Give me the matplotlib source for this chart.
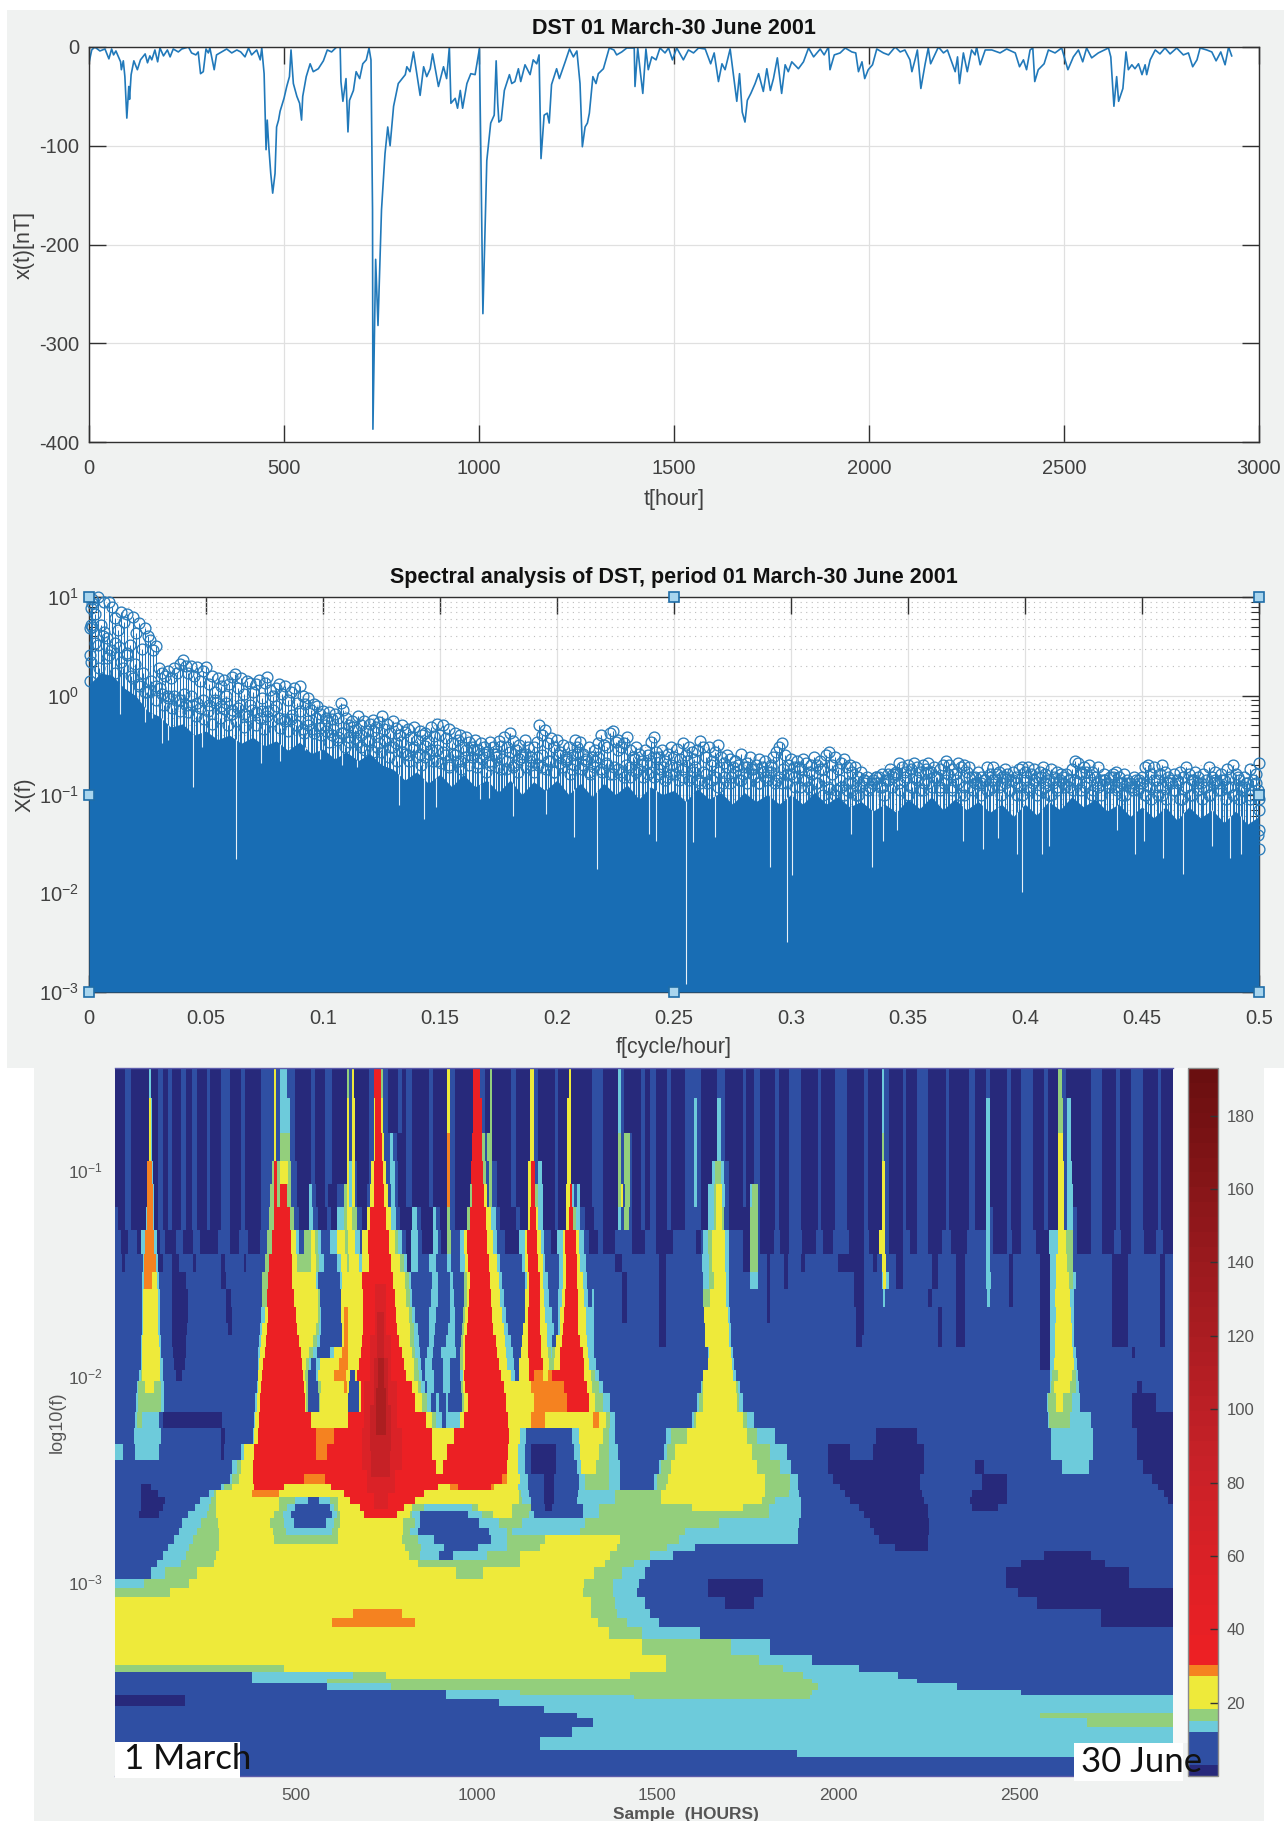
import matplotlib
matplotlib.use("Agg")
import matplotlib.pyplot as plt
import numpy as np
from matplotlib.colors import BoundaryNorm, LinearSegmentedColormap, ListedColormap
from matplotlib.cm import ScalarMappable
from matplotlib.patches import Rectangle
from matplotlib.ticker import NullFormatter, LogLocator

plt.rcParams["font.family"] = ["Liberation Sans", "DejaVu Sans"]
plt.rcParams["mathtext.default"] = "regular"
plt.rcParams["axes.unicode_minus"] = False

W, H = 1284, 1821

# DST index, hours and nT
dst_t = [0, 7, 15, 28, 41, 51, 58, 63, 69, 81, 83, 88, 92, 97, 102, 104, 108, 115, 124, 132, 144, 150, 156, 161, 169,
         176, 182, 191, 201, 208, 216, 229, 238, 255, 263, 274, 280, 286, 293, 300, 306, 310, 321, 327, 340, 353, 366,
         379, 389, 400, 409, 417, 430, 439, 443, 449, 454, 457, 461, 466, 471, 477, 481, 486, 490, 500, 507, 514, 518,
         524, 533, 540, 545, 548, 557, 567, 575, 588, 601, 611, 622, 635, 644, 646, 651, 659, 664, 668, 678, 685, 694,
         702, 711, 718, 723, 727, 728, 735, 741, 750, 759, 766, 772, 781, 793, 811, 815, 823, 832, 839, 849, 858, 866,
         875, 881, 896, 909, 917, 924, 928, 939, 945, 952, 958, 969, 979, 990, 1001, 1005, 1010, 1020, 1030, 1039, 1044,
         1048, 1051, 1057, 1065, 1078, 1084, 1092, 1101, 1107, 1118, 1131, 1139, 1148, 1154, 1159, 1167, 1175, 1180,
         1186, 1199, 1206, 1221, 1232, 1242, 1251, 1259, 1265, 1272, 1278, 1283, 1292, 1300, 1306, 1319, 1334, 1346,
         1353, 1366, 1379, 1398, 1400, 1407, 1413, 1420, 1428, 1434, 1443, 1454, 1464, 1477, 1486, 1496, 1507, 1524,
         1537, 1550, 1563, 1580, 1594, 1603, 1614, 1623, 1631, 1644, 1652, 1661, 1668, 1675, 1682, 1688, 1697, 1708,
         1717, 1729, 1738, 1747, 1755, 1765, 1776, 1785, 1793, 1802, 1819, 1832, 1845, 1858, 1875, 1885, 1896, 1900,
         1911, 1926, 1939, 1956, 1966, 1973, 1982, 1989, 1998, 2009, 2020, 2037, 2050, 2067, 2080, 2092, 2105, 2110,
         2118, 2124, 2133, 2144, 2152, 2158, 2178, 2191, 2201, 2210, 2221, 2227, 2232, 2242, 2252, 2263, 2272, 2276,
         2285, 2298, 2315, 2336, 2353, 2375, 2386, 2396, 2404, 2413, 2420, 2425, 2434, 2449, 2460, 2477, 2494, 2510,
         2524, 2537, 2548, 2558, 2571, 2588, 2614, 2620, 2628, 2635, 2640, 2651, 2659, 2665, 2674, 2682, 2691, 2700,
         2708, 2712, 2721, 2734, 2746, 2759, 2772, 2789, 2806, 2819, 2830, 2841, 2849, 2866, 2879, 2890, 2902, 2913,
         2922, 2930]
dst_x = [-16, -3, 0, -4, -2, -12, -2, -8, -4, -15, -23, -14, -30, -72, -40, -53, -28, -14, -23, -13, -7, -16, -9, -13, -3,
         -15, -1, -9, -3, -10, -2, -5, -2, 0, -6, -8, -5, -27, -25, -2, -6, -1, -23, -8, -5, -2, -6,
         -3, -5, -10, -1, -8, -3, -13, -1, -27, -104, -74, -101, -128, -148, -128, -81, -74, -65, -52, -40, -30, -3,
         -37, -50, -57, -74, -50, -30, -17, -25, -22, -14, -3, -5, 0, 0, -35, -55, -32, -86, -54, -44, -25, -32,
         -17, -13, -1, -13, -165, -387, -215, -282, -165, -108, -81, -100, -60, -37, -28, -20, -25, -5, -23, -49, -20, -30,
         -22, -7, -40, -20, -32, 0, -57, -52, -62, -44, -62, -37, -27, -28, -2, -115, -270, -115, -77, -69, -14,
         -57, -76, -74, -44, -28, -37, -35, -22, -35, -18, -28, -13, -17, -8, -113, -69, -67, -77,
         -38, -22, -32, -15, -2, -10, -4, -37, -101, -81, -77, -67, -30, -37, -27, -22, -1, -3,
         -8, -5, -1, -1, -40, -1, -23, -47, -2, -23, -10, -13, -1, -6, -1, -13, -1, -13,
         -3, -6, -1, -2, -17, -6, -35, -17, -23, -2, -27, -55, -27, -66, -76, -54, -47, -37,
         -27, -45, -22, -44, -32, -11, -47, -18, -25, -15, -22, -15, -1, -10, -2, -8, 0, -23,
         -8, -6, -1, -5, -6, -25, -15, -32, -23, -18, -2, -6, -8, 0, -5, -3, -13, -25,
         -13, -3, -42, -17, -1, -17, 0, -6, -3, -13, -25, -10, -37, -6, -25, -3, -8, 0,
         -18, -3, -3, -6, -2, -6, -20, -13, -23, -3, -1, -35, -23, -17, -3, -6, -1, -23,
         -10, -3, -15, -1, -11, -6, -1, -10, -60, -30, -55, -42, -5, -23, -18, -22, -17, -28,
         -18, -28, -13, -3, -7, -1, -7, -1, -8, -6, -20, -13, -1, -3, -5, -14, -5, -18,
         0, -9]
dst_ticks_x = [0, 500, 1000, 1500, 2000, 2500, 3000]
dst_ticks_y = [-400, -300, -200, -100, 0]

# spectrum, main peaks every 0.00125 cycle/hour
x_peak = [9.5, 6.8, 9.9, 5.2, 8.9, 3.8, 9.0, 7.9, 6.2, 4.6, 7.0, 5.6, 6.7, 3.3, 6.3, 4.3, 5.5, 3.0, 4.8, 4.0,
          3.7, 2.9, 3.2, 1.9, 1.7, 1.6, 1.8, 1.5, 1.9, 1.7, 2.1, 2.3, 2.0, 1.7, 2.0, 1.6, 1.95, 1.4, 1.8, 1.95,
          1.3, 1.6, 1.1, 1.5, 1.25, 1.45, 1.0, 1.3, 1.55, 1.67, 1.2, 1.5, 1.05, 1.4, 1.35, 1.1, 1.3, 1.45, 0.95, 1.35,
          1.55, 1.15, 1.0, 1.2, 1.3, 1.05, 1.25, 0.9, 1.1, 1.2, 0.85, 1.25, 1.0, 0.82, 0.95, 0.72, 0.83, 0.78, 0.65, 0.7,
          0.6, 0.69, 0.58, 0.66, 0.6, 0.84, 0.72, 0.6, 0.5, 0.55, 0.45, 0.63, 0.5, 0.56, 0.44, 0.52, 0.57, 0.48, 0.54, 0.62,
          0.46, 0.52, 0.42, 0.55, 0.47, 0.4, 0.5, 0.43, 0.46, 0.38, 0.48, 0.36, 0.44, 0.4, 0.42, 0.35, 0.48, 0.39, 0.52, 0.4,
          0.5, 0.37, 0.46, 0.33, 0.42, 0.36, 0.4, 0.3, 0.38, 0.34, 0.3, 0.36, 0.28, 0.33, 0.3, 0.27, 0.34, 0.3, 0.26, 0.35,
          0.31, 0.38, 0.3, 0.42, 0.35, 0.28, 0.32, 0.26, 0.36, 0.3, 0.24, 0.3, 0.34, 0.5, 0.4, 0.45, 0.33, 0.37, 0.3, 0.36,
          0.27, 0.32, 0.24, 0.3, 0.25, 0.36, 0.3, 0.34, 0.26, 0.22, 0.3, 0.24, 0.28, 0.33, 0.4, 0.32, 0.3, 0.42, 0.44, 0.34,
          0.36, 0.3, 0.33, 0.38, 0.28, 0.24, 0.3, 0.26, 0.22, 0.28, 0.25, 0.34, 0.38, 0.27, 0.24, 0.28, 0.22, 0.26, 0.3, 0.24,
          0.29, 0.23, 0.33, 0.25, 0.3, 0.27, 0.23, 0.28, 0.35, 0.3, 0.24, 0.3, 0.22, 0.27, 0.32, 0.24, 0.21, 0.25, 0.23, 0.19,
          0.22, 0.2, 0.26, 0.19, 0.21, 0.24, 0.18, 0.2, 0.23, 0.19, 0.22, 0.17, 0.2, 0.24, 0.27, 0.3, 0.33, 0.25, 0.2, 0.23,
          0.19, 0.22, 0.18, 0.23, 0.21, 0.17, 0.2, 0.24, 0.2, 0.22, 0.18, 0.25, 0.27, 0.2, 0.24, 0.18, 0.21, 0.23, 0.19, 0.2,
          0.17, 0.19, 0.15, 0.17, 0.13, 0.15, 0.12, 0.14, 0.13, 0.15, 0.16, 0.14, 0.16, 0.18, 0.15, 0.17, 0.21, 0.19, 0.17, 0.2,
          0.18, 0.21, 0.19, 0.17, 0.2, 0.18, 0.21, 0.17, 0.19, 0.15, 0.18, 0.2, 0.22, 0.2, 0.18, 0.16, 0.21, 0.19, 0.2, 0.17,
          0.19, 0.15, 0.13, 0.17, 0.15, 0.14, 0.19, 0.16, 0.19, 0.14, 0.17, 0.15, 0.18, 0.16, 0.14, 0.17, 0.15, 0.18, 0.19, 0.17,
          0.19, 0.16, 0.18, 0.15, 0.17, 0.19, 0.16, 0.14, 0.18, 0.15, 0.17, 0.14, 0.13, 0.16, 0.14, 0.18, 0.22, 0.21, 0.16, 0.19,
          0.17, 0.2, 0.17, 0.15, 0.19, 0.14, 0.16, 0.13, 0.12, 0.15, 0.17, 0.15, 0.13, 0.16, 0.14, 0.13, 0.12, 0.14, 0.13, 0.15,
          0.19, 0.2, 0.16, 0.19, 0.14, 0.16, 0.2, 0.17, 0.15, 0.13, 0.16, 0.14, 0.17, 0.15, 0.19, 0.16, 0.14, 0.17, 0.15, 0.13,
          0.16, 0.14, 0.19, 0.15, 0.17, 0.13, 0.16, 0.14, 0.18, 0.15, 0.2, 0.16, 0.14, 0.12, 0.15, 0.13, 0.18, 0.14, 0.16, 0.21]
# spectrum, lower peaks every 0.0025 cycle/hour, half a step off
x_low = [5.0, 3.3, 4.4, 2.6, 3.4, 2.2, 2.7, 1.5, 1.25, 1.1, 1.15, 1.25, 1.05, 0.95, 1.0, 0.9, 0.8, 1.0, 0.85, 0.9,
         0.8, 0.9, 0.78, 0.85, 0.72, 0.75, 0.66, 0.8, 0.68, 0.7, 0.62, 0.72, 0.6, 0.55, 0.58, 0.5, 0.46, 0.5, 0.42, 0.47,
         0.44, 0.4, 0.38, 0.42, 0.34, 0.37, 0.3, 0.35, 0.27, 0.33, 0.36, 0.3, 0.33, 0.27, 0.25, 0.3, 0.26, 0.24, 0.28, 0.22,
         0.27, 0.2, 0.25, 0.22, 0.28, 0.24, 0.21, 0.26, 0.2, 0.24, 0.18, 0.22, 0.19, 0.23, 0.26, 0.2, 0.24, 0.19, 0.22, 0.17,
         0.21, 0.23, 0.18, 0.26, 0.2, 0.17, 0.22, 0.18, 0.2, 0.16, 0.18, 0.15, 0.19, 0.17, 0.2, 0.16, 0.15, 0.18, 0.14, 0.16,
         0.19, 0.15, 0.14, 0.17, 0.13, 0.16, 0.14, 0.12, 0.15, 0.13, 0.17, 0.14, 0.19, 0.16, 0.13, 0.15, 0.17, 0.14, 0.13, 0.16,
         0.15, 0.12, 0.14, 0.11, 0.13, 0.1, 0.115, 0.1, 0.12, 0.11, 0.13, 0.1, 0.14, 0.12, 0.15, 0.12, 0.14, 0.16, 0.13, 0.15,
         0.12, 0.14, 0.11, 0.13, 0.15, 0.12, 0.14, 0.11, 0.13, 0.1, 0.12, 0.15, 0.13, 0.11, 0.14, 0.12, 0.15, 0.11, 0.13, 0.1,
         0.12, 0.14, 0.11, 0.13, 0.1, 0.12, 0.15, 0.12, 0.14, 0.11, 0.13, 0.1, 0.12, 0.14, 0.15, 0.12, 0.1, 0.13, 0.11, 0.14,
         0.1, 0.09, 0.12, 0.1, 0.13, 0.11, 0.09, 0.12, 0.1, 0.13, 0.12, 0.1, 0.14, 0.11, 0.12, 0.1, 0.09, 0.12, 0.1, 0.13]
# spectrum, peaks just above the solid part, every 0.00172 cycle/hour
x_mid = [2.2, 3.4, 1.9, 4.0, 2.4, 2.9, 1.7, 3.1, 1.9, 2.6, 1.6, 2.1, 1.3, 1.7, 1.1, 1.4, 0.9, 1.2, 0.8, 1.0, 0.75, 0.9, 0.7, 1.05, 0.68, 0.8, 0.62, 0.75,
         0.58, 0.7, 0.52, 0.85, 0.6, 0.74, 0.5, 0.66, 0.56, 0.8, 0.48, 0.62, 0.72, 0.5, 0.6, 0.46, 0.7, 0.55, 0.78, 0.47, 0.58, 0.44, 0.64, 0.5, 0.7, 0.42, 0.56, 0.46, 0.6,
         0.4, 0.5, 0.34, 0.46, 0.36, 0.42, 0.3, 0.38, 0.48, 0.34, 0.4, 0.28, 0.36, 0.44, 0.3, 0.27, 0.35, 0.24, 0.3, 0.22, 0.34, 0.26, 0.22, 0.29, 0.24, 0.2, 0.31, 0.26, 0.22,
         0.28, 0.21, 0.25, 0.19, 0.26, 0.22, 0.18, 0.24, 0.2, 0.28, 0.19, 0.23, 0.17, 0.22, 0.26, 0.19, 0.23, 0.18, 0.27, 0.2, 0.17, 0.24, 0.19, 0.22, 0.17, 0.2, 0.25, 0.18, 0.22,
         0.17, 0.25, 0.19, 0.22, 0.16, 0.2, 0.27, 0.18, 0.23, 0.16, 0.19, 0.24, 0.17, 0.21, 0.16, 0.19, 0.28, 0.17, 0.2, 0.15, 0.23, 0.18, 0.15, 0.21, 0.17, 0.24, 0.16, 0.19, 0.15,
         0.2, 0.16, 0.14, 0.18, 0.22, 0.15, 0.19, 0.14, 0.17, 0.13, 0.2, 0.15, 0.17, 0.13, 0.19, 0.15, 0.22, 0.14, 0.16, 0.13, 0.18, 0.15, 0.13, 0.17, 0.14, 0.19, 0.13, 0.15, 0.18,
         0.13, 0.16, 0.12, 0.19, 0.14, 0.12, 0.16, 0.13, 0.18, 0.14, 0.12, 0.16, 0.11, 0.14, 0.1, 0.13, 0.11, 0.1, 0.12, 0.14, 0.11, 0.13, 0.15, 0.12, 0.1, 0.14, 0.12, 0.16, 0.11,
         0.14, 0.1, 0.12, 0.15, 0.11, 0.13, 0.17, 0.12, 0.15, 0.11, 0.13, 0.16, 0.12, 0.14, 0.1, 0.12, 0.15, 0.11, 0.13, 0.1, 0.14, 0.11, 0.12, 0.16, 0.1, 0.13, 0.11, 0.14, 0.1,
         0.12, 0.14, 0.11, 0.13, 0.1, 0.15, 0.12, 0.1, 0.13, 0.11, 0.16, 0.12, 0.14, 0.11, 0.13, 0.17, 0.12, 0.15, 0.11, 0.13, 0.1, 0.14, 0.12, 0.16, 0.11, 0.13, 0.1, 0.12, 0.15,
         0.11, 0.13, 0.1, 0.12, 0.14, 0.1, 0.12, 0.09, 0.14, 0.11, 0.13, 0.09, 0.12, 0.1, 0.14, 0.11, 0.09, 0.12, 0.1, 0.13, 0.11, 0.14, 0.09, 0.12, 0.1, 0.15, 0.11, 0.13, 0.09]
# circles hugging the two edges of the frequency axis
f_edge = [0.0003, 0.0005, 0.0006, 0.0008, 0.001, 0.0012, 0.4995, 0.4998, 0.5, 0.5, 0.4997, 0.5]
x_edge = [1.4, 2.6, 4.8, 5.2, 7.8, 8.6, 0.11, 0.09, 0.069, 0.044, 0.039, 0.028]
# top of the solid part of the comb, uneven like the reference
f_floor = [0, 0.005, 0.01, 0.015, 0.02, 0.025, 0.03, 0.035, 0.04, 0.045, 0.05, 0.055, 0.06, 0.065, 0.07, 0.075, 0.08, 0.085, 0.09, 0.095,
           0.1, 0.105, 0.11, 0.115, 0.12, 0.125, 0.13, 0.135, 0.14, 0.145, 0.15, 0.155, 0.16, 0.165, 0.17, 0.175, 0.18, 0.185, 0.19, 0.195,
           0.2, 0.205, 0.21, 0.215, 0.22, 0.225, 0.23, 0.235, 0.24, 0.245, 0.25, 0.255, 0.26, 0.265, 0.27, 0.275, 0.28, 0.285, 0.29, 0.295,
           0.3, 0.305, 0.31, 0.315, 0.32, 0.325, 0.33, 0.335, 0.34, 0.345, 0.35, 0.355, 0.36, 0.365, 0.37, 0.375, 0.38, 0.385, 0.39, 0.395,
           0.4, 0.405, 0.41, 0.415, 0.42, 0.425, 0.43, 0.435, 0.44, 0.445, 0.45, 0.455, 0.46, 0.465, 0.47, 0.475, 0.48, 0.485, 0.49, 0.495, 0.5]
x_floor = [1.3, 1.7, 1.6, 1.2, 1.0, 0.7, 0.62, 0.48, 0.52, 0.4, 0.44, 0.36, 0.4, 0.33, 0.38, 0.31, 0.35, 0.28, 0.34, 0.26,
           0.29, 0.23, 0.27, 0.22, 0.26, 0.2, 0.18, 0.14, 0.17, 0.13, 0.16, 0.12, 0.16, 0.12, 0.14, 0.105, 0.14, 0.1, 0.135, 0.11,
           0.14, 0.1, 0.13, 0.095, 0.13, 0.1, 0.125, 0.09, 0.12, 0.1, 0.11, 0.085, 0.115, 0.09, 0.105, 0.08, 0.105, 0.085, 0.1, 0.08,
           0.1, 0.08, 0.105, 0.08, 0.095, 0.075, 0.085, 0.068, 0.08, 0.066, 0.09, 0.072, 0.095, 0.07, 0.09, 0.07, 0.085, 0.066, 0.08, 0.06,
           0.08, 0.062, 0.085, 0.07, 0.095, 0.075, 0.09, 0.068, 0.08, 0.06, 0.075, 0.058, 0.075, 0.055, 0.075, 0.058, 0.07, 0.052, 0.068, 0.05, 0.06]
# deep dips of the comb, shown as white hairlines
f_dip = [0.0132, 0.0238, 0.0268, 0.031, 0.0339, 0.041, 0.0446, 0.0482, 0.0628, 0.0735, 0.0816, 0.0923, 0.0987, 0.1082, 0.1144,
         0.1325, 0.1432, 0.1481, 0.1671, 0.171, 0.1811, 0.1953, 0.2074, 0.2171, 0.2394, 0.2424, 0.2552, 0.2581, 0.2675, 0.291,
         0.2984, 0.3004, 0.3256, 0.3345, 0.3395, 0.3455, 0.3734, 0.3819, 0.3884, 0.3965, 0.3987, 0.4072, 0.4103, 0.4393,
         0.4471, 0.4509, 0.4589, 0.4675, 0.4799, 0.4876, 0.4922]
x_dip = [0.66, 0.54, 0.6, 0.33, 0.36, 0.5, 0.119, 0.3, 0.0224, 0.21, 0.22, 0.28, 0.23, 0.2, 0.19,
         0.078, 0.057, 0.075, 0.09, 0.092, 0.061, 0.063, 0.037, 0.0178, 0.04, 0.034, 0.0012, 0.033, 0.037, 0.0186,
         0.0032, 0.0152, 0.04, 0.0186, 0.034, 0.044, 0.034, 0.028, 0.036, 0.025, 0.0102, 0.025, 0.03, 0.044,
         0.025, 0.034, 0.0225, 0.0158, 0.03, 0.0225, 0.025]
f_tip = [0, 0.25, 0.5, 0, 0.5, 0, 0.25, 0.5]
x_tip = [10, 10, 10, 0.1, 0.1, 0.001, 0.001, 0.001]
spec_ticks_x = [0, 0.05, 0.1, 0.15, 0.2, 0.25, 0.3, 0.35, 0.4, 0.45, 0.5]
spec_labels_x = ["0", "0.05", "0.1", "0.15", "0.2", "0.25", "0.3", "0.35", "0.4", "0.45", "0.5"]

# scalogram bands, lowest to highest
band_colors = ["#27297b", "#2f4fa3", "#6dcbdb", "#93cf7c", "#eeea3a", "#f58220", "#ec2024", "#da2227", "#c62126", "#ac1e20"]

# scalogram cells: each row is (lower edge of the row, runs "band:last column"), columns 99-1011 span the record
m1 = "0:145 1:148 0:156 1:160 0:165 1:170 0:178 1:181 0:190 1:198 0:208 1:211 0:225"
m2 = "1:148 0:154 1:166 0:169 1:190 0:194 1:210 0:212 1:225"
m3 = "0:152 1:158 0:166 1:172 0:188 1:198 0:206 1:214 0:224"
r_a = "0:552 1:556 0:560 1:565 0:575 1:578 0:590 1:598"
r_c = "1:655 0:668 1:671 0:680 1:690 0:705 1:708 0:720 1:730 0:745 1:748 0:760"
r_c2 = "1:661 0:664 1:676 0:679 1:690 0:694 1:722 0:745 1:752 0:756 1:760"
r_c3 = "1:655 0:667 1:672 0:680 1:691 0:703 1:709 0:718 1:732 0:745 1:749 0:758"
r_d = "0:778 1:781 0:790 1:800 0:815 1:818 0:835 1:840 0:850"
r_e = "0:868 1:871 0:880 1:890 0:900 1:903 0:912"
r_f = "0:940 1:950 0:962 1:965 0:975 1:985 0:998 1:1001 0:1011"
r_h = "1:772 0:778 1:803 0:808 1:824 0:832 1:850"
r_h3 = "0:778 1:784 0:790 1:800 0:812 1:820 0:833 1:850"
r_i = "1:870 0:873 1:896 0:905"
r_i3 = "0:868 1:872 0:880 1:893 0:904"
r_j = "1:958 0:972 1:1000 0:1004 1:1011"
r_j3 = "0:940 1:950 0:960 1:966 0:975 1:986 0:996 1:1002 0:1011"

cwt_rows = [
    (945, "0:108 1:113 0:128 2:130 0:136 1:140 " + m1 + " 1:236 4:238 1:241 2:247 1:254 0:268 1:271 0:280 1:286 0:299 3:301 1:303 4:305 0:318 1:322 6:328 3:330 1:334 0:343 1:346 0:350 1:355 0:370 1:373 0:385 4:388 1:392 0:408 6:414 1:418 0:422 3:424 0:440 1:445 0:457 4:460 1:464 0:478 1:481 0:490 4:492 0:510 1:520 0:533 2:535 1:538 " + r_a + " 1:604 0:618 1:625 0:640 1:643 0:650 " + r_c + " 2:762 1:766 " + r_d + " 1:853 " + r_e + " 3:915 1:919 " + r_f),
    (975, "0:108 1:113 0:128 2:128 4:130 2:131 0:136 1:140 " + m1 + " 1:236 4:238 1:241 2:250 1:254 0:268 1:271 0:280 1:286 0:299 4:301 1:303 4:306 0:318 1:322 4:323 6:328 4:330 1:334 0:343 1:346 0:350 1:355 0:370 1:373 0:385 4:388 1:392 0:408 6:415 1:418 0:422 3:424 0:440 1:445 0:457 4:460 1:464 0:478 1:481 0:489 4:492 0:510 1:520 0:533 2:535 1:538 " + r_a + " 2:601 1:604 0:618 2:621 1:625 0:640 1:643 0:650 " + r_c + " 2:762 1:766 " + r_d + " 2:853 " + r_e + " 3:916 1:920 2:923 " + r_f),
    (1000, "0:108 1:113 0:128 2:128 4:130 2:131 0:136 1:140 " + m1 + " 1:236 4:238 1:241 3:250 1:254 0:268 1:271 0:280 1:286 0:299 4:301 1:303 4:306 0:318 1:322 4:323 6:329 4:331 1:336 2:339 1:342 0:350 1:355 0:370 1:373 0:385 5:388 1:392 0:407 6:415 3:418 1:420 3:424 0:440 1:445 0:457 4:460 1:464 0:478 1:481 0:489 4:492 0:510 1:520 0:533 3:535 1:538 3:543 1:545 " + r_a + " 2:601 1:604 0:618 2:621 1:625 0:640 1:643 0:650 " + r_c + " 3:762 1:766 " + r_d + " 2:853 " + r_e + " 4:916 1:920 2:923 " + r_f),
    (1020, "0:108 1:113 0:127 2:127 5:131 2:132 0:136 1:140 " + m1 + " 1:234 3:236 6:239 3:241 4:248 3:251 1:256 0:268 1:271 0:280 1:286 0:299 4:301 2:303 4:306 1:308 0:318 1:320 4:322 6:330 4:333 1:336 2:340 1:343 0:350 1:355 0:370 1:373 0:385 5:388 1:392 0:406 6:416 3:419 1:421 3:424 1:428 0:440 1:445 0:455 4:458 6:461 1:464 2:467 0:478 1:481 0:489 4:492 0:510 1:520 0:533 3:535 1:538 3:543 1:545 " + r_a + " 2:601 1:604 0:614 2:616 3:621 2:624 1:628 0:640 1:643 0:650 " + r_c + " 4:763 1:766 " + r_d + " 2:853 " + r_e + " 4:917 1:920 2:924 " + r_f),
    (1040, "0:108 1:113 0:127 2:127 5:132 2:133 0:136 1:140 " + m1 + " 1:233 3:236 6:239 3:241 6:247 3:251 1:256 0:266 2:269 1:272 0:280 1:283 0:290 1:296 3:299 4:301 2:303 4:306 1:308 0:316 1:319 4:322 6:331 4:334 1:337 2:340 1:343 0:350 1:355 0:370 1:373 0:385 5:388 1:392 0:405 3:407 6:417 4:420 1:421 3:424 1:428 0:440 1:445 0:455 4:458 6:461 3:464 2:468 0:478 1:481 0:488 4:491 6:493 2:495 1:497 2:500 0:510 1:520 0:533 3:535 4:537 1:539 3:543 1:545 " + r_a + " 2:601 1:604 0:610 2:615 3:617 4:622 2:625 1:628 0:640 1:643 0:646 2:648 3:653 " + r_c + " 4:763 1:766 " + r_d + " 2:853 " + r_e + " 4:917 1:920 2:925 " + r_f),
    (1060, "1:102 0:108 1:113 0:126 2:127 5:132 2:133 0:136 1:140 " + m1 + " 1:232 3:236 6:250 3:253 1:258 0:266 2:270 1:274 0:282 1:285 0:290 2:296 3:299 4:303 3:308 1:312 0:316 4:319 6:333 4:337 2:341 1:345 0:355 2:359 1:363 0:373 2:376 1:379 0:385 3:388 1:392 0:402 3:405 6:419 4:423 2:427 1:431 0:445 1:448 0:455 4:457 6:462 4:464 2:468 0:478 1:481 0:488 4:490 6:494 3:496 2:500 1:504 0:512 1:520 0:533 2:535 1:538 3:542 1:545 " + r_a + " 1:604 0:610 2:615 3:617 4:622 3:624 1:628 0:646 3:653 " + r_c + " 4:763 1:766 " + r_d + " 2:853 1:856 " + r_e + " 4:917 1:920 2:925 1:928 " + r_f),
    (1080, "1:104 0:110 1:118 0:121 2:125 5:133 2:135 0:138 1:142 " + m3 + " 1:230 3:234 6:251 4:255 2:258 1:262 3:268 4:271 3:274 2:277 1:284 2:290 4:297 3:300 4:306 2:310 1:312 4:317 6:335 4:340 3:343 2:346 1:350 0:354 2:360 1:364 0:373 2:377 1:380 0:385 3:389 1:396 2:400 4:402 6:420 4:425 2:428 1:435 0:447 2:452 4:454 6:463 4:466 2:469 1:475 0:480 2:485 4:487 6:496 4:499 2:503 1:508 0:515 1:520 0:530 1:545 0:556 1:565 0:580 1:600 0:604 1:606 2:610 3:614 4:625 2:628 1:640 0:646 3:653 " + r_c3 + " 4:763 1:766 " + r_h3 + " 2:853 1:856 " + r_i3 + " 2:912 4:919 3:925 1:928 " + r_j3),
    (1095, "1:105 0:108 1:123 2:124 5:134 2:136 0:140 " + m2 + " 1:228 3:232 6:252 4:256 3:268 4:272 3:275 2:279 1:290 2:294 4:299 3:301 4:309 2:312 4:318 6:337 4:345 3:348 2:351 0:354 2:360 1:370 2:376 1:385 2:389 1:396 2:401 4:403 6:421 4:428 2:431 1:450 2:452 4:455 6:464 4:468 2:470 1:482 2:485 4:488 6:497 4:500 2:505 1:530 0:536 1:568 0:574 1:605 2:611 3:614 4:625 2:628 1:640 0:646 3:653 " + r_c2 + " 4:764 1:766 " + r_h + " 2:853 1:856 " + r_i + " 2:910 4:920 3:925 1:930 " + r_j),
    (1110, "1:122 2:124 5:131 4:135 2:137 1:148 0:160 1:190 0:195 1:226 3:231 6:252 4:272 2:274 1:293 2:295 4:312 6:339 4:349 3:352 2:354 1:372 2:377 1:388 2:390 1:400 3:402 4:405 6:422 4:430 2:433 1:452 2:454 4:456 6:465 4:468 2:472 1:482 2:485 4:488 6:497 4:502 2:506 1:536 0:540 1:568 0:574 1:606 2:611 3:615 4:626 2:628 1:646 2:653 1:661 0:664 1:676 0:679 1:736 0:745 1:760 2:761 4:764 2:766 " + r_h + " 2:854 1:856 " + r_i + " 2:910 4:921 3:925 2:927 " + r_j),
    (1125, "1:122 2:123 4:136 2:138 1:148 0:162 1:195 0:199 1:226 3:230 6:253 4:274 3:276 1:294 4:313 6:340 4:350 3:353 2:355 1:371 2:377 1:388 2:391 1:400 3:402 4:404 6:423 4:431 2:434 1:452 4:456 6:465 4:469 2:473 1:481 2:484 4:487 6:498 4:503 2:507 1:510 2:512 1:536 0:540 1:568 0:574 1:606 3:612 4:626 2:628 1:661 0:664 1:736 0:745 1:761 2:763 1:800 0:803 1:824 0:832 1:851 2:853 " + r_i + " 2:909 4:922 2:926 " + r_j),
    (1140, "1:122 2:123 4:136 2:138 1:148 0:162 1:195 0:200 1:225 2:228 4:231 6:255 4:274 3:276 2:277 1:294 4:296 5:300 4:313 6:341 4:352 3:355 2:358 1:370 2:376 1:388 2:392 1:399 3:401 4:403 6:424 4:433 2:436 1:452 4:455 6:465 4:470 2:476 1:481 2:483 4:486 6:498 4:505 2:512 1:536 0:540 1:568 0:574 1:607 4:627 2:629 1:661 0:664 1:738 0:745 1:808 0:812 1:824 0:832 1:896 0:905 2:910 4:923 2:926 " + r_j),
    (1150, "1:122 2:123 4:136 2:138 1:148 0:161 1:196 0:200 1:224 2:226 4:230 6:256 4:272 3:275 2:277 1:295 4:296 5:300 4:313 6:342 4:353 3:357 2:360 1:370 2:375 1:386 2:392 1:398 3:400 4:402 6:425 4:434 2:438 1:451 4:455 6:465 4:471 2:477 1:481 2:483 4:485 6:498 4:505 2:512 1:568 0:574 1:608 4:628 2:630 1:738 0:745 1:808 0:812 1:824 0:832 1:896 0:905 2:909 4:924 2:926 " + r_j),
    (1160, "1:121 2:122 4:137 2:139 1:148 0:160 1:223 2:225 4:229 6:258 4:270 3:273 2:276 1:295 4:296 5:300 4:312 6:344 4:353 3:357 2:361 1:370 2:374 1:384 2:392 1:397 3:399 4:401 6:427 4:435 2:440 1:450 4:455 6:466 4:471 2:476 1:479 4:484 6:500 4:506 2:512 1:568 0:574 1:608 4:628 2:630 1:738 0:743 1:808 0:812 1:824 0:832 1:896 0:905 2:909 4:924 2:926 " + r_j),
    (1170, "1:121 2:122 4:138 2:139 1:149 0:160 1:222 2:224 4:228 6:259 4:266 3:270 2:273 1:284 2:288 4:295 5:300 4:311 6:346 4:355 3:358 2:362 1:368 2:373 1:380 2:393 1:396 3:399 4:401 6:428 4:436 2:442 1:449 4:455 6:466 4:472 3:475 2:476 3:478 4:483 6:502 4:507 2:512 1:610 2:611 4:630 2:632 1:896 0:905 2:909 4:925 2:927 1:976 0:978 1:1011"),
    (1180, "1:121 2:122 4:138 2:140 1:150 0:159 1:222 2:223 4:227 6:260 4:264 3:266 2:268 1:272 2:276 4:292 5:300 4:309 6:348 4:357 3:360 2:363 1:366 2:372 1:382 2:388 1:396 3:399 4:401 6:430 4:437 2:443 1:447 4:456 6:468 4:473 3:477 4:483 6:503 4:508 2:514 1:610 2:610 4:631 2:633 1:896 0:905 2:908 4:926 2:928 1:1011"),
    (1190, "1:120 2:121 3:122 4:138 2:140 1:152 0:157 1:222 4:226 6:261 4:263 3:265 1:272 2:274 4:288 5:298 4:302 1:306 4:308 6:350 4:357 3:361 2:364 1:366 2:374 1:382 2:388 1:396 2:399 4:400 6:432 4:440 2:444 1:447 4:456 6:460 5:468 4:472 5:476 6:503 4:509 3:513 2:516 1:606 2:606 4:632 2:634 1:905 2:907 3:912 4:924 3:927 2:929 1:1011"),
    (1200, "1:118 2:119 3:125 4:133 3:139 2:141 1:221 2:222 4:225 6:262 4:264 3:265 1:274 3:277 4:296 5:299 4:301 1:309 4:311 6:355 4:360 3:363 2:366 1:368 2:374 1:382 2:388 1:397 3:399 4:401 6:434 4:458 5:486 6:506 4:510 3:516 2:520 1:604 2:605 3:606 4:634 3:636 2:638 1:905 2:906 3:908 4:922 3:927 2:930 1:980 0:984 1:1011"),
    (1215, "1:117 2:119 3:139 2:141 1:220 2:221 4:224 6:263 4:264 3:265 1:275 3:276 4:300 1:309 4:311 6:358 4:364 3:368 2:371 1:376 2:378 1:384 2:386 1:398 3:400 4:403 6:436 4:460 5:489 6:508 4:513 3:520 2:526 1:601 2:602 3:606 4:635 3:637 2:640 1:902 2:903 3:910 4:916 3:924 2:931 1:976 0:996 1:1011"),
    (1230, "1:116 2:118 3:122 2:137 1:140 0:191 1:194 0:194 1:219 2:220 4:223 6:268 4:300 6:367 4:372 3:376 2:381 1:384 2:396 4:400 6:438 4:458 5:470 4:511 5:516 4:522 3:526 2:530 1:596 2:598 3:600 4:640 3:644 2:650 1:903 2:904 3:912 4:912 3:922 2:940 1:976 0:1011"),
    (1243, "1:115 2:116 2:139 1:190 0:194 1:218 2:219 4:222 6:272 5:288 6:372 4:391 6:439 4:448 2:453 1:493 2:499 4:520 3:525 2:530 1:574 2:578 3:592 4:644 3:652 2:668 1:755 0:790 1:906 2:942 1:980 0:1011"),
    (1257, "2:106 1:116 2:117 2:137 1:190 0:193 1:208 2:210 4:219 6:272 5:282 6:372 4:385 6:438 4:446 2:452 1:458 0:479 1:495 2:500 4:516 3:525 2:533 1:572 2:575 3:582 4:648 3:664 2:678 1:714 0:733 1:752 0:796 1:906 2:942 1:980 0:1011"),
    (1270, "1:200 2:204 3:208 4:218 6:376 4:382 6:437 4:446 2:452 1:458 0:479 1:497 2:501 4:514 3:525 2:534 1:568 2:570 3:578 4:592 4:652 3:672 2:682 1:714 0:796 1:840 0:848 1:915 2:939 1:985 0:1011"),
    (1278, "1:198 2:200 3:206 4:218 6:262 5:280 6:433 5:437 4:448 2:455 1:469 0:477 1:499 2:504 3:525 2:534 1:564 2:566 3:576 4:589 4:659 3:681 2:688 1:718 0:793 1:846 0:868 1:993 0:1011"),
    (1284, "1:121 0:130 1:190 2:193 3:200 4:219 6:245 4:285 6:377 4:388 5:395 6:423 5:426 4:446 2:455 1:469 0:477 1:499 2:504 3:525 2:534 1:564 2:566 3:574 4:589 4:659 3:681 2:688 1:724 0:793 1:846 0:868 1:998 0:1011"),
    (1290, "1:121 0:136 1:180 2:184 3:186 4:217 5:240 4:296 6:365 4:447 3:449 2:456 1:469 0:477 1:498 2:530 3:570 4:589 4:659 3:680 2:689 1:728 0:795 1:838 0:868 1:1003 0:1011"),
    (1296, "1:121 0:142 1:172 2:182 3:186 4:240 3:254 2:265 1:275 2:284 3:291 4:302 6:358 4:447 3:450 2:458 1:469 0:477 1:497 2:530 3:570 4:592 4:657 3:668 2:690 1:733 0:796 1:836 0:868 1:1007 0:1011"),
    (1302, "1:121 0:140 1:168 2:180 3:186 4:240 3:247 2:254 1:284 2:288 3:291 4:310 6:348 4:355 3:365 2:407 3:412 4:441 3:458 1:470 0:476 1:502 2:516 3:596 4:640 3:663 2:690 1:740 0:800 1:838 0:860 1:1011"),
    (1308, "1:120 0:137 1:162 2:178 3:186 4:236 3:244 2:251 1:286 2:290 3:293 4:314 6:342 4:353 3:355 2:362 1:403 2:415 3:425 4:441 3:456 2:460 1:502 2:516 3:663 2:690 1:745 0:800 1:1011"),
    (1315, "1:157 2:173 3:188 4:233 3:245 2:253 1:281 2:288 3:293 4:347 3:358 2:362 1:413 2:430 3:450 2:504 3:620 2:689 1:750 0:801 1:1011"),
    (1322, "1:154 2:170 3:189 4:235 3:246 2:286 3:291 4:347 3:353 2:360 1:421 2:437 3:441 2:500 3:590 2:688 1:753 0:801 1:1011"),
    (1329, "1:150 2:166 3:189 4:236 3:291 4:346 3:360 2:374 1:423 2:437 3:470 4:534 3:585 2:688 1:758 0:800 1:1011"),
    (1336, "1:145 2:163 3:189 4:349 3:363 2:383 1:412 2:437 3:465 4:532 3:575 2:599 1:771 0:800 1:1011"),
    (1343, "1:140 2:160 3:186 4:352 3:362 2:378 1:390 2:420 3:448 4:526 3:560 2:580 1:900 0:940 1:1011"),
    (1349, "1:135 2:156 3:184 4:360 3:448 4:521 3:546 2:560 1:880 0:952 1:1011"),
    (1360, "1:130 2:142 3:170 4:393 3:416 4:512 3:536 2:556 1:867 0:973 1:1011"),
    (1368, "2:124 3:163 4:503 3:528 2:551 1:610 0:658 1:867 0:973 1:1011"),
    (1376, "3:146 4:502 3:528 2:549 1:610 0:658 1:877 0:1011"),
    (1385, "4:509 3:530 2:556 1:625 0:650 1:894 0:1011"),
    (1393, "4:304 5:346 4:509 3:532 2:560 1:949 0:1011"),
    (1401, "4:286 5:358 4:515 3:540 2:568 1:949 0:1011"),
    (1412, "4:525 3:553 2:603 1:1011"),
    (1425, "4:553 3:630 2:664 1:1011"),
    (1433, "4:574 3:654 2:700 1:1011"),
    (1440, "3:245 4:574 3:675 2:740 1:1011"),
    (1445, "1:217 2:304 3:333 4:543 3:692 2:774 1:1011"),
    (1449, "1:217 2:282 3:335 3:700 2:790 1:1011"),
    (1455, "1:282 2:337 3:705 2:825 1:1011"),
    (1460, "1:384 2:448 3:700 2:880 1:1011"),
    (1464, "0:159 1:384 2:546 3:698 2:1011"),
    (1470, "0:159 1:430 2:1011"),
    (1476, "1:469 2:1011"),
    (1480, "1:497 2:896 3:1011"),
    (1487, "1:511 2:937 3:1011"),
    (1496, "1:493 2:1011"),
    (1507, "1:465 2:1011"),
    (1513, "1:687 2:1011"),
    (1530, "1:1011"),
]
# darker core of the central ridge: (upper edge, lower edge, first column, last column, band)
cwt_core = [(1105, 1150, 323, 333, 7), (1150, 1190, 319, 337, 7), (1190, 1230, 314, 342, 7), (1230, 1265, 312, 346, 7),
            (1265, 1285, 316, 340, 7), (1285, 1300, 322, 334, 7), (1130, 1170, 325, 331, 8), (1170, 1210, 322, 334, 8),
            (1210, 1250, 319, 337, 8), (1250, 1272, 320, 336, 8), (1170, 1195, 326, 331, 9), (1195, 1235, 324, 333, 9)]
cwt_ticks = [500, 1000, 1500, 2000, 2500]
cwt_freq_ticks = [0.1, 0.01, 0.001]
cbar_ticks = [20, 40, 60, 80, 100, 120, 140, 160, 180]


def px_axes(l, t, r, b):
    return fig.add_axes([l / W, 1 - b / H, (r - l) / W, (b - t) / H])


def px_rect(l, t, r, b, color):
    fig.add_artist(Rectangle((l / W, 1 - b / H), (r - l) / W, (b - t) / H, transform=fig.transFigure,
                             color=color, lw=0, zorder=-5))


def px_text(x, y, s, **kw):
    kw.setdefault("ha", "center")
    kw.setdefault("va", "center")
    kw.setdefault("color", "#404040")
    fig.text(x / W, 1 - y / H, s, **kw)


fig = plt.figure(figsize=(W / 100, H / 100), dpi=100, facecolor="white")
px_rect(7, 10, 1284, 1068, "#f0f2f1")
px_rect(34, 1068, 1264, 1821, "#f0f2f1")
px_rect(1173, 1068, 1188, 1743, "#f8f9f8")


def matlab_box(ax):
    ax.set_facecolor("white")
    for s in ax.spines.values():
        s.set_color("#303030")
        s.set_linewidth(1.0)
    ax.tick_params(which="major", direction="in", length=12, width=1, color="#303030", top=True, right=True,
                   labelsize=14.5, labelcolor="#404040", pad=7)
    ax.tick_params(axis="x", which="major", pad=12)
    ax.grid(True, which="major", color="#e0e0e0", lw=0.9)
    ax.set_axisbelow(True)


# top: DST series
ax1 = px_axes(89, 47, 1259, 442)
matlab_box(ax1)
ax1.plot(dst_t, dst_x, color="#2179ba", lw=1.2)
ax1.set_xlim(0, 3000)
ax1.set_ylim(-400, 0)
ax1.set_xticks(dst_ticks_x)
ax1.set_yticks(dst_ticks_y)
px_text(674, 29, "DST 01 March-30 June 2001", fontsize=15.5, fontweight="bold", color="#111111")
px_text(674, 499, "t[hour]", fontsize=15.5)
px_text(24, 245, "x(t)[nT]", fontsize=15.5, rotation=90)

# middle: spectrum
ax2 = px_axes(89, 597, 1259, 992)
matlab_box(ax2)
ax2.set_yscale("log")
ax2.set_xlim(0, 0.5)
ax2.set_ylim(1e-3, 10)
ax2.yaxis.set_minor_locator(LogLocator(base=10, subs=np.arange(2, 10), numticks=12))
ax2.yaxis.set_minor_formatter(NullFormatter())
ax2.tick_params(which="minor", axis="y", direction="in", length=6, width=0.8, color="#303030", left=True, right=True)
ax2.grid(True, which="minor", axis="y", color="#bdbdbd", lw=0.8, ls=(0, (1, 4)))
blue = "#186db4"
f_peak = np.arange(1, len(x_peak) + 1) * 0.00125
f_low = (np.arange(len(x_low)) + 0.5) * 0.0025
f_mid = 0.0009 + np.arange(len(x_mid)) * 0.00172
for ff, xx in [(f_low, x_low), (f_peak, x_peak), (f_mid, x_mid), (f_edge, x_edge)]:
    ax2.vlines(ff, 1e-3, xx, color="#2073b7", lw=0.75, zorder=3.0)
    ax2.plot(ff, xx, "o", ms=7.8, mfc="none", mec="#2a7cba", mew=0.95, zorder=3.4, clip_on=False)
ax2.fill_between(f_floor, 1e-3, x_floor, color=blue, lw=0, zorder=3.5)
ax2.vlines(f_dip, x_dip, np.interp(f_dip, f_floor, x_floor), color="#e8f1f8", lw=0.8, zorder=3.6)
ax2.plot(f_tip, x_tip, "s", ms=7, mfc="#a8d5ee", mec="#1f6da8", mew=1.2, zorder=6, clip_on=False)
ax2.set_xticks(spec_ticks_x)
ax2.set_xticklabels(spec_labels_x)
px_text(674, 578, "Spectral analysis of DST, period 01 March-30 June 2001", fontsize=15.5, fontweight="bold", color="#111111")
px_text(674, 1047, "f[cycle/hour]", fontsize=15.5)
px_text(25, 795, "X(f)", fontsize=15.5, rotation=90)

# bottom: scalogram
col_edges = np.arange(99, 1012)
row_edges = [920] + [r[0] for r in cwt_rows]
bands = np.zeros((len(cwt_rows), len(col_edges) - 1), dtype=int)
for i, (_, runs) in enumerate(cwt_rows):
    start = 99
    for run in runs.split():
        b, end = run.split(":")
        bands[i, start - 99:max(start, int(end)) - 99] = int(b)
        start = max(start, int(end))

# the rows are resampled finely so the core shades can sit across them
sub_edges = np.arange(920, 1531, 2)
sub_rows = np.searchsorted(row_edges, sub_edges[:-1] + 1) - 1
fine = bands[np.clip(sub_rows, 0, len(cwt_rows) - 1)]
for top, bottom, c0, c1, band in cwt_core:
    rows = (sub_edges[:-1] >= top) & (sub_edges[:-1] < bottom)
    block = fine[rows][:, c0 - 99:c1 - 99]
    block[block >= 6] = band
    fine[np.ix_(rows, np.arange(c0 - 99, c1 - 99))] = block

t_edges = 1 + (col_edges - 99) * 2924 / 912
f_edges = 10.0 ** (-1 - (sub_edges - 1007.6) / 177.5)
ax3 = px_axes(115, 1068, 1173, 1776)
ax3.pcolormesh(t_edges, f_edges, fine, cmap=ListedColormap(band_colors),
               norm=BoundaryNorm(np.arange(-0.5, 10), 10), shading="flat", antialiased=False, rasterized=True)
ax3.set_yscale("log")
ax3.set_xlim(t_edges[0], t_edges[-1])
ax3.set_ylim(f_edges[-1], f_edges[0])
ax3.set_xticks(cwt_ticks)
ax3.set_yticks(cwt_freq_ticks)
ax3.minorticks_off()
ax3.tick_params(length=0, labelsize=12.5, labelcolor="#555555", pad=9)
for name, s in ax3.spines.items():
    s.set_visible(name in ("top", "bottom"))
    s.set_color("#5c5cab")
    s.set_linewidth(1)
px_text(57, 1422, "log10(f)", fontsize=13, rotation=90, color="#555555")
px_text(686, 1815, "Sample  (HOURS)", fontsize=12.5, color="#555555", fontweight="bold")

# colour bar
cax = px_axes(1188, 1068, 1218, 1776)
grad = LinearSegmentedColormap.from_list("reds", ["#ed2024", "#c82128", "#9c1a1e", "#6a0f10"])
cb_levels = [0, 3, 12, 15, 18.3, 27.3] + list(np.linspace(30.3, 193, 41))
cb_colors = band_colors[:5] + ["#f58220"] + [grad(v) for v in np.linspace(0, 1, 40)]
sm = ScalarMappable(norm=BoundaryNorm(cb_levels, len(cb_colors)), cmap=ListedColormap(cb_colors))
cb = fig.colorbar(sm, cax=cax, spacing="proportional", ticks=cbar_ticks)
cb.ax.tick_params(direction="in", length=6, width=1, color="#333333", labelsize=12, labelcolor="#555555", pad=6)
cb.ax.minorticks_off()
cb.outline.set_edgecolor("#8a8a8a")
cb.outline.set_linewidth(1)

# pasted date labels
for (l, t, r, b), (tx, s) in zip([(115, 1742, 240, 1778), (1074, 1743, 1183, 1781)],
                                 [(124, "1 March"), (1081, "30 June")]):
    fig.add_artist(Rectangle((l / W, 1 - b / H), (r - l) / W, (b - t) / H, transform=fig.transFigure,
                             color="white", lw=0, zorder=8))
    fig.text(tx / W, 1 - (b - 3) / H, s, ha="left", va="bottom", fontsize=25, color="#111111", zorder=9, family="Lato")

fig.savefig("out.png", dpi=100)
